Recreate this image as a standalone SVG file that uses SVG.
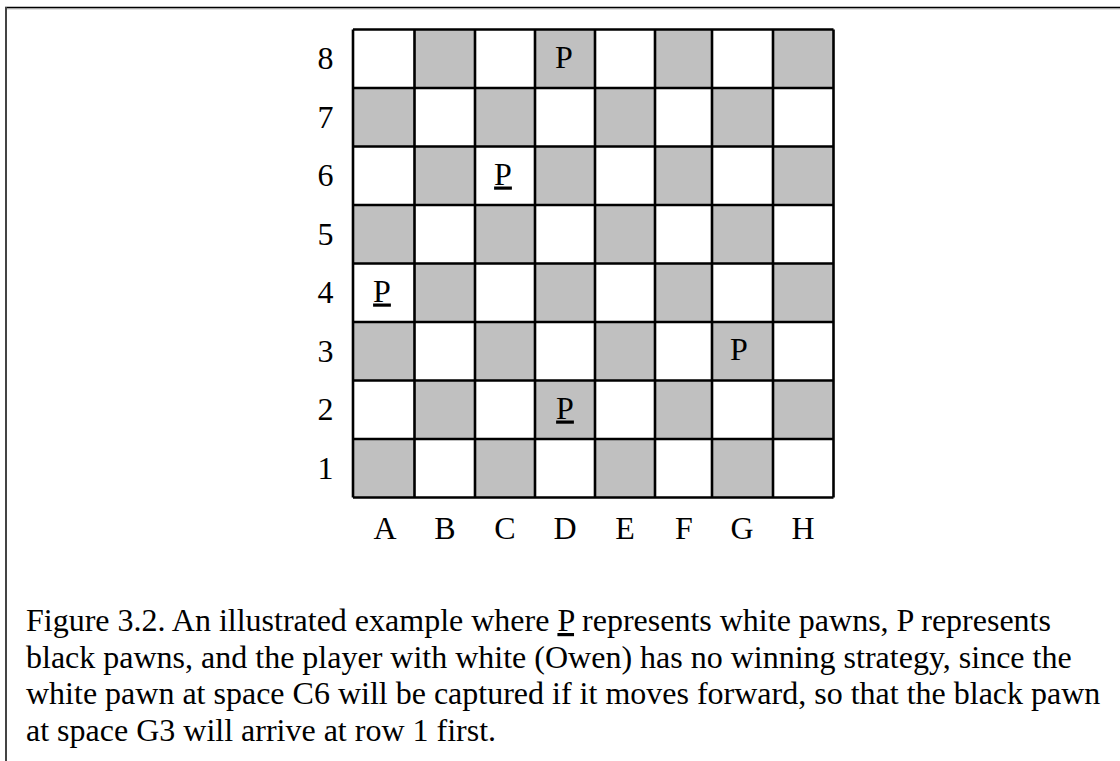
<svg xmlns="http://www.w3.org/2000/svg" width="1120" height="761" viewBox="0 0 1120 761">
<style>
text{font-family:"Liberation Serif","Times New Roman",serif;font-size:32px;fill:#000}
.lbl{text-anchor:middle}
.pc{text-anchor:middle}
.u{text-decoration:underline}
.g{fill:#c0c0c0}
.grid{stroke:#000;stroke-width:2.6;fill:none}
</style>
<rect x="0" y="0" width="1120" height="761" fill="#fff"/>
<g id="frame">
<line x1="5" y1="7.5" x2="1120" y2="7.5" stroke="#000" stroke-width="1.5"/>
<line x1="5" y1="8.8" x2="1120" y2="8.8" stroke="#999" stroke-width="1"/>
<line x1="6" y1="7" x2="6" y2="761" stroke="#444" stroke-width="2"/>
</g>
<g id="board">
<g id="squares">
<rect class="g" x="414.5" y="29.5" width="60.5" height="58.5"/>
<rect class="g" x="535" y="29.5" width="60" height="58.5"/>
<rect class="g" x="655" y="29.5" width="57" height="58.5"/>
<rect class="g" x="773" y="29.5" width="60.5" height="58.5"/>
<rect class="g" x="353" y="88" width="61.5" height="58.5"/>
<rect class="g" x="475" y="88" width="60" height="58.5"/>
<rect class="g" x="595" y="88" width="60" height="58.5"/>
<rect class="g" x="712" y="88" width="61" height="58.5"/>
<rect class="g" x="414.5" y="146.5" width="60.5" height="58.5"/>
<rect class="g" x="535" y="146.5" width="60" height="58.5"/>
<rect class="g" x="655" y="146.5" width="57" height="58.5"/>
<rect class="g" x="773" y="146.5" width="60.5" height="58.5"/>
<rect class="g" x="353" y="205" width="61.5" height="58.5"/>
<rect class="g" x="475" y="205" width="60" height="58.5"/>
<rect class="g" x="595" y="205" width="60" height="58.5"/>
<rect class="g" x="712" y="205" width="61" height="58.5"/>
<rect class="g" x="414.5" y="263.5" width="60.5" height="58.5"/>
<rect class="g" x="535" y="263.5" width="60" height="58.5"/>
<rect class="g" x="655" y="263.5" width="57" height="58.5"/>
<rect class="g" x="773" y="263.5" width="60.5" height="58.5"/>
<rect class="g" x="353" y="322" width="61.5" height="58.5"/>
<rect class="g" x="475" y="322" width="60" height="58.5"/>
<rect class="g" x="595" y="322" width="60" height="58.5"/>
<rect class="g" x="712" y="322" width="61" height="58.5"/>
<rect class="g" x="414.5" y="380.5" width="60.5" height="58.5"/>
<rect class="g" x="535" y="380.5" width="60" height="58.5"/>
<rect class="g" x="655" y="380.5" width="57" height="58.5"/>
<rect class="g" x="773" y="380.5" width="60.5" height="58.5"/>
<rect class="g" x="353" y="439" width="61.5" height="58.5"/>
<rect class="g" x="475" y="439" width="60" height="58.5"/>
<rect class="g" x="595" y="439" width="60" height="58.5"/>
<rect class="g" x="712" y="439" width="61" height="58.5"/>
</g>
<path class="grid" d="M353 29.5V497.5M414.5 29.5V497.5M475 29.5V497.5M535 29.5V497.5M595 29.5V497.5M655 29.5V497.5M712 29.5V497.5M773 29.5V497.5M833.5 29.5V497.5M353 29.5H833.5M353 88H833.5M353 146.5H833.5M353 205H833.5M353 263.5H833.5M353 322H833.5M353 380.5H833.5M353 439H833.5M353 497.5H833.5"/>
</g>
<g id="row-labels">
<text class="lbl" x="325.5" y="69">8</text>
<text class="lbl" x="325.5" y="127.5">7</text>
<text class="lbl" x="325.5" y="186">6</text>
<text class="lbl" x="325.5" y="244.5">5</text>
<text class="lbl" x="325.5" y="303">4</text>
<text class="lbl" x="325.5" y="361.5">3</text>
<text class="lbl" x="325.5" y="420">2</text>
<text class="lbl" x="325.5" y="478.5">1</text>
</g>
<g id="col-labels">
<text class="lbl" x="385" y="539">A</text>
<text class="lbl" x="445" y="539">B</text>
<text class="lbl" x="505" y="539">C</text>
<text class="lbl" x="565" y="539">D</text>
<text class="lbl" x="625" y="539">E</text>
<text class="lbl" x="684" y="539">F</text>
<text class="lbl" x="742" y="539">G</text>
<text class="lbl" x="803" y="539">H</text>
</g>
<g id="pieces">
<text id="pD8" class="pc" x="564" y="67.5">P</text>
<text id="pC6" class="pc u" x="503" y="184.5">P</text>
<text id="pA4" class="pc u" x="382" y="301.5">P</text>
<text id="pG3" class="pc" x="739" y="360">P</text>
<text id="pD2" class="pc u" x="565" y="418.5">P</text>
</g>
<g id="caption">
<text x="26" y="631">Figure 3.2. An illustrated example where <tspan class="u">P</tspan> represents white pawns, P represents</text>
<text x="26" y="667.5">black pawns, and the player with white (Owen) has no winning strategy, since the</text>
<text x="26" y="704">white pawn at space C6 will be captured if it moves forward, so that the black pawn</text>
<text x="26" y="740.5">at space G3 will arrive at row 1 first.</text>
</g>
</svg>
